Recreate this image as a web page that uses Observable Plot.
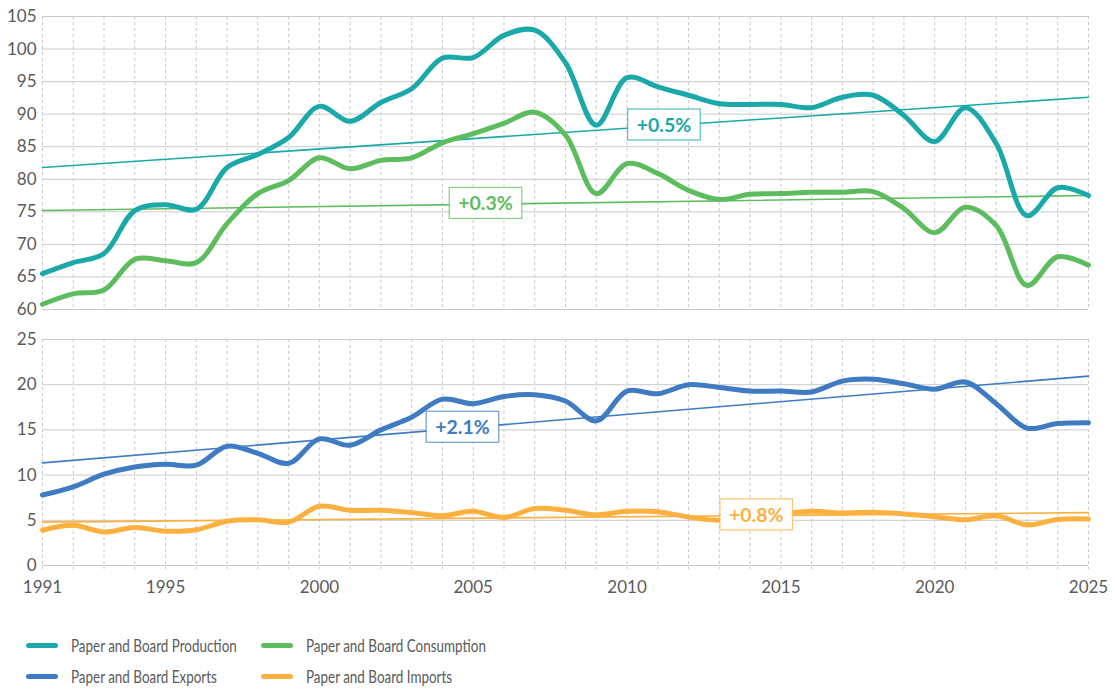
<!DOCTYPE html>
<html>
<head>
<meta charset="utf-8">
<script src="https://cdn.jsdelivr.net/npm/d3@7"></script>
<script src="https://cdn.jsdelivr.net/npm/@observablehq/plot@0.6"></script>
<style>
  html, body { margin: 0; padding: 0; background: #fff; }
  #chart { position: relative; width: 1115px; height: 689px; overflow: hidden; font-family: Lato, sans-serif; }
  #chart svg { display: block; }
  .legend { position: absolute; left: 26px; top: 630px; display: grid; grid-template-columns: 235px auto; grid-auto-rows: 31px; }
  .legend .item { display: flex; align-items: center; height: 31px; }
  .legend .sw { width: 32px; height: 5px; border-radius: 3px; margin-right: 13px; flex: none; }
  .legend .lab { font-family: Lato, sans-serif; font-size: 17px; color: #5a5a5a; white-space: nowrap; display: inline-block; transform: scaleX(0.79); transform-origin: 0 50%; }
</style>
</head>
<body>
<div id="chart"></div>
<script>
// ---- data ----
const years = [1991,1992,1993,1994,1995,1996,1997,1998,1999,2000,2001,2002,2003,2004,2005,2006,2007,2008,2009,2010,2011,2012,2013,2014,2015,2016,2017,2018,2019,2020,2021,2022,2023,2024,2025];
const xTicks = [1991,1995,2000,2005,2010,2015,2020,2025];
const yTicksTop = [60,65,70,75,80,85,90,95,100,105];
const yTicksBottom = [0,5,10,15,20,25];

const seriesNames = ["Paper and Board Production","Paper and Board Consumption","Paper and Board Exports","Paper and Board Imports"];

const production  = [65.5,67.2,68.6,75.2,76.1,75.4,81.8,83.8,86.4,91.2,88.9,91.8,93.9,98.6,98.7,102.1,102.9,97.9,88.3,95.6,94.2,92.9,91.6,91.5,91.5,91.0,92.6,92.9,89.8,85.8,91.0,85.5,74.4,78.7,77.5];
const consumption = [60.8,62.4,63.0,67.7,67.5,67.2,73.2,77.8,79.8,83.3,81.6,82.9,83.3,85.6,87.0,88.6,90.3,86.8,77.8,82.4,80.9,78.3,76.9,77.7,77.8,78.0,78.0,78.1,75.5,71.8,75.7,72.9,63.7,68.1,66.8];
const exportsV    = [7.8,8.7,10.1,10.9,11.2,11.1,13.2,12.4,11.3,14.0,13.3,15.0,16.4,18.4,17.9,18.7,18.9,18.2,16.0,19.3,19.0,20.0,19.7,19.3,19.3,19.2,20.4,20.6,20.1,19.5,20.3,17.9,15.2,15.7,15.8];
const importsV    = [3.9,4.45,3.7,4.2,3.8,3.95,4.9,5.05,4.8,6.55,6.1,6.1,5.85,5.5,6.0,5.3,6.3,6.1,5.6,6.0,5.95,5.35,5.0,5.4,5.7,6.0,5.8,5.9,5.7,5.4,5.05,5.5,4.5,5.1,5.15];

const trendStart  = [81.8, 75.2, 11.35, 4.8];
const trendEnd    = [92.6, 77.5, 20.95, 5.85];
const trendLabels = ["+0.5%","+0.3%","+2.1%","+0.8%"];
const labelYear   = [2011.2, 2005.4, 2004.65, 2014.2];

const seriesValues = [production, consumption, exportsV, importsV];

// ---- styles ----
const palette = ["#1aa9a8","#5dbd5e","#3f7bc3","#fbb03f"];
const gridColor = "#cacaca";

function rows(i) {
  return years.map((y, k) => ({year: y, value: seriesValues[i][k], series: seriesNames[i]}));
}
function trendRows(i) {
  return [
    {year: years[0], value: trendStart[i], series: seriesNames[i]},
    {year: years[years.length - 1], value: trendEnd[i], series: seriesNames[i]}
  ];
}
function labelRow(i) {
  const t = (labelYear[i] - years[0]) / (years[years.length - 1] - years[0]);
  return {year: labelYear[i], value: trendStart[i] + t * (trendEnd[i] - trendStart[i]), series: seriesNames[i], text: trendLabels[i]};
}

function panel({idx, yDomain, yTicks, height, marginTop, marginBottom, showX}) {
  const data = idx.flatMap(rows);
  const trends = idx.flatMap(trendRows);
  const labels = idx.map(labelRow);
  return Plot.plot({
    width: 1115, height, marginLeft: 42, marginRight: 27, marginTop, marginBottom,
    style: {fontFamily: "Lato, sans-serif", fontSize: "17px", color: "#5a5a5a", background: "transparent", overflow: "visible"},
    x: {domain: [years[0], years[years.length - 1]], axis: showX ? undefined : null},
    y: {domain: yDomain},
    color: {domain: seriesNames, range: palette},
    marks: [
      Plot.ruleX(years, {stroke: gridColor, strokeDasharray: "3,3", insetBottom: showX ? -4 : 0}),
      Plot.ruleY(yTicks, {stroke: gridColor, strokeWidth: 1}),
      Plot.axisY({ticks: yTicks, tickSize: 0, tickPadding: 6, label: null}),
      showX ? Plot.axisX({ticks: xTicks, tickFormat: d => String(d), tickSize: 0, tickPadding: 15, label: null}) : null,
      Plot.line(trends, {x: "year", y: "value", z: "series", stroke: "series", strokeWidth: 1.6}),
      Plot.line(data, {x: "year", y: "value", z: "series", stroke: "series", strokeWidth: 5, curve: "catmull-rom"}),
      Plot.text(labels, {x: "year", y: "value", text: "text", fill: "series", fontWeight: "bold", fontSize: 19.5})
    ]
  });
}

const chart = document.getElementById("chart");
const topPlot = panel({idx: [0, 1], yDomain: [60, 105], yTicks: yTicksTop, height: 324, marginTop: 16, marginBottom: 15, showX: false});
const botPlot = panel({idx: [2, 3], yDomain: [0, 25], yTicks: yTicksBottom, height: 276, marginTop: 15, marginBottom: 35, showX: true});
chart.appendChild(topPlot);
chart.appendChild(botPlot);

// boxes behind trend labels
chart.querySelectorAll("svg text").forEach(t => {
  if (!trendLabels.includes(t.textContent.trim())) return;
  const b = t.getBBox();
  const col = getComputedStyle(t).fill;
  const r = document.createElementNS("http://www.w3.org/2000/svg", "rect");
  const padX = 9, padY = 4;
  r.setAttribute("x", b.x - padX);
  r.setAttribute("y", b.y - padY);
  r.setAttribute("width", b.width + 2 * padX);
  r.setAttribute("height", b.height + 2 * padY);
  r.setAttribute("fill", "#ffffff");
  r.setAttribute("stroke", col);
  r.setAttribute("stroke-opacity", "0.75");
  r.setAttribute("stroke-width", "1.2");
  const tr = t.getAttribute("transform");
  if (tr) r.setAttribute("transform", tr);
  t.parentNode.insertBefore(r, t);
});

// legend
const legend = document.createElement("div");
legend.className = "legend";
[0, 1, 2, 3].forEach(i => {
  const item = document.createElement("div");
  item.className = "item";
  const sw = document.createElement("span");
  sw.className = "sw";
  sw.style.background = palette[i];
  const lab = document.createElement("span");
  lab.className = "lab";
  lab.textContent = seriesNames[i];
  item.appendChild(sw);
  item.appendChild(lab);
  legend.appendChild(item);
});
chart.appendChild(legend);
</script>
</body>
</html>
